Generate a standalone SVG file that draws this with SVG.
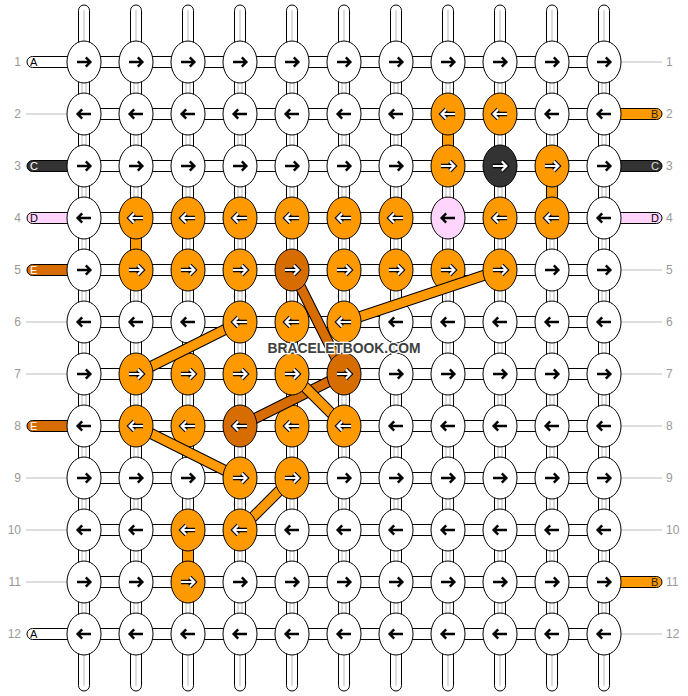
<svg xmlns="http://www.w3.org/2000/svg" xmlns:xlink="http://www.w3.org/1999/xlink" width="688" height="696" viewBox="0 0 688 696">
<style>
.lb{font-family:"Liberation Sans",Arial,sans-serif;font-size:12px;fill:#999}
.sl{font-family:"Liberation Sans",Arial,sans-serif;font-size:11px}
.gl{stroke:#bbb;stroke-width:1;fill:none}
.st{stroke:#000;stroke-width:1}
.hw{fill:#fff;stroke:#000;stroke-width:1}
.vo{fill:#ff9900;stroke:#000;stroke-width:1}
ellipse{stroke:#000;stroke-width:1}
.w{fill:#fff}.o{fill:#ff9900}.d{fill:#d76c00}.k{fill:#333}.p{fill:#ffd5fd}
.ak{fill:none;stroke:#000;stroke-width:2.4}
.aw1{fill:none;stroke:#000;stroke-width:4.4}
.aw2{fill:none;stroke:#fff;stroke-width:2.2}
.bo{stroke:#000;stroke-width:11}
.bfo{stroke:#ff9900;stroke-width:9}
.bfd{stroke:#d76c00;stroke-width:9}
.wm{font-family:"Liberation Sans",Arial,sans-serif;font-size:15px;font-weight:bold;fill:#404040;stroke:#fff;stroke-width:2.5;paint-order:stroke}
</style>
<defs>
<path id="pR" d="M-7,0H5.5M1.8,-4.6L6.4,0L1.8,4.6"/>
<path id="pL" d="M7,0H-5.5M-1.8,-4.6L-6.4,0L-1.8,4.6"/>
<g id="wR"><use href="#pR" class="aw1"/><use href="#pR" class="aw2"/></g>
<g id="wL"><use href="#pL" class="aw1"/><use href="#pL" class="aw2"/></g>
</defs>
<g id="labels">
<text class="lb" x="21" y="66" text-anchor="end">1</text>
<text class="lb" x="21" y="118" text-anchor="end">2</text>
<text class="lb" x="21" y="170" text-anchor="end">3</text>
<text class="lb" x="21" y="222" text-anchor="end">4</text>
<text class="lb" x="21" y="274" text-anchor="end">5</text>
<text class="lb" x="21" y="326" text-anchor="end">6</text>
<text class="lb" x="21" y="378" text-anchor="end">7</text>
<text class="lb" x="21" y="430" text-anchor="end">8</text>
<text class="lb" x="21" y="482" text-anchor="end">9</text>
<text class="lb" x="21" y="534" text-anchor="end">10</text>
<text class="lb" x="21" y="586" text-anchor="end">11</text>
<text class="lb" x="21" y="638" text-anchor="end">12</text>
<text class="lb" x="666" y="66">1</text>
<text class="lb" x="666" y="118">2</text>
<text class="lb" x="666" y="170">3</text>
<text class="lb" x="666" y="222">4</text>
<text class="lb" x="666" y="274">5</text>
<text class="lb" x="666" y="326">6</text>
<text class="lb" x="666" y="378">7</text>
<text class="lb" x="666" y="430">8</text>
<text class="lb" x="666" y="482">9</text>
<text class="lb" x="666" y="534">10</text>
<text class="lb" x="666" y="586">11</text>
<text class="lb" x="666" y="638">12</text>
</g>
<g id="connectors">
<g id="vertical-strands">
<path class="hw" d="M78.5,10.5A5.5,5.5 0 0 1 89.5,10.5V685.5A5.5,5.5 0 0 1 78.5,685.5Z"/>
<path class="hw" d="M130.5,10.5A5.5,5.5 0 0 1 141.5,10.5V685.5A5.5,5.5 0 0 1 130.5,685.5Z"/>
<path class="hw" d="M182.5,10.5A5.5,5.5 0 0 1 193.5,10.5V685.5A5.5,5.5 0 0 1 182.5,685.5Z"/>
<path class="hw" d="M234.5,10.5A5.5,5.5 0 0 1 245.5,10.5V685.5A5.5,5.5 0 0 1 234.5,685.5Z"/>
<path class="hw" d="M286.5,10.5A5.5,5.5 0 0 1 297.5,10.5V685.5A5.5,5.5 0 0 1 286.5,685.5Z"/>
<path class="hw" d="M338.5,10.5A5.5,5.5 0 0 1 349.5,10.5V685.5A5.5,5.5 0 0 1 338.5,685.5Z"/>
<path class="hw" d="M390.5,10.5A5.5,5.5 0 0 1 401.5,10.5V685.5A5.5,5.5 0 0 1 390.5,685.5Z"/>
<path class="hw" d="M442.5,10.5A5.5,5.5 0 0 1 453.5,10.5V685.5A5.5,5.5 0 0 1 442.5,685.5Z"/>
<path class="hw" d="M494.5,10.5A5.5,5.5 0 0 1 505.5,10.5V685.5A5.5,5.5 0 0 1 494.5,685.5Z"/>
<path class="hw" d="M546.5,10.5A5.5,5.5 0 0 1 557.5,10.5V685.5A5.5,5.5 0 0 1 546.5,685.5Z"/>
<path class="hw" d="M598.5,10.5A5.5,5.5 0 0 1 609.5,10.5V685.5A5.5,5.5 0 0 1 598.5,685.5Z"/>
<path class="gl" d="M84,10V42M84,654V686M82,62V634M86,62V634"/>
<path class="gl" d="M136,10V42M136,654V686M134,62V634M138,62V634"/>
<path class="gl" d="M188,10V42M188,654V686M186,62V634M190,62V634"/>
<path class="gl" d="M240,10V42M240,654V686M238,62V634M242,62V634"/>
<path class="gl" d="M292,10V42M292,654V686M290,62V634M294,62V634"/>
<path class="gl" d="M344,10V42M344,654V686M342,62V634M346,62V634"/>
<path class="gl" d="M396,10V42M396,654V686M394,62V634M398,62V634"/>
<path class="gl" d="M448,10V42M448,654V686M446,62V634M450,62V634"/>
<path class="gl" d="M500,10V42M500,654V686M498,62V634M502,62V634"/>
<path class="gl" d="M552,10V42M552,654V686M550,62V634M554,62V634"/>
<path class="gl" d="M604,10V42M604,654V686M602,62V634M606,62V634"/>
<rect class="vo" x="442.5" y="130" width="11" height="20"/>
<rect class="vo" x="546.5" y="182" width="11" height="20"/>
<rect class="vo" x="130.5" y="234" width="11" height="20"/>
<rect class="vo" x="182.5" y="546" width="11" height="20"/>
</g>
<g id="horizontal-rows">
<rect class="hw" x="84" y="56.5" width="520" height="11"/>
<rect class="hw" x="84" y="108.5" width="520" height="11"/>
<rect class="hw" x="84" y="160.5" width="520" height="11"/>
<rect class="hw" x="84" y="212.5" width="520" height="11"/>
<rect class="hw" x="84" y="264.5" width="520" height="11"/>
<rect class="hw" x="84" y="316.5" width="520" height="11"/>
<rect class="hw" x="84" y="368.5" width="520" height="11"/>
<rect class="hw" x="84" y="420.5" width="520" height="11"/>
<rect class="hw" x="84" y="472.5" width="520" height="11"/>
<rect class="hw" x="84" y="524.5" width="520" height="11"/>
<rect class="hw" x="84" y="576.5" width="520" height="11"/>
<rect class="hw" x="84" y="628.5" width="520" height="11"/>
</g>
<g id="side-strands">
<path class="st" fill="#fff" d="M70,56.5H32.5A5.5,5.5 0 0 0 32.5,67.5H70Z"/>
<text class="sl" x="30" y="66" fill="#000">A</text>
<path class="gl" d="M26,114H70M26,322H70M26,374H70M26,478H70M26,530H70M26,582H70"/>
<path class="st" fill="#333" d="M70,160.5H32.5A5.5,5.5 0 0 0 32.5,171.5H70Z"/>
<text class="sl" x="30" y="170" fill="#fff">C</text>
<path class="st" fill="#ffd5fd" d="M70,212.5H32.5A5.5,5.5 0 0 0 32.5,223.5H70Z"/>
<text class="sl" x="30" y="222" fill="#000">D</text>
<path class="st" fill="#d76c00" d="M70,264.5H32.5A5.5,5.5 0 0 0 32.5,275.5H70Z"/>
<text class="sl" x="30" y="274" fill="#fff">E</text>
<path class="st" fill="#d76c00" d="M70,420.5H32.5A5.5,5.5 0 0 0 32.5,431.5H70Z"/>
<text class="sl" x="30" y="430" fill="#fff">E</text>
<path class="st" fill="#fff" d="M70,628.5H32.5A5.5,5.5 0 0 0 32.5,639.5H70Z"/>
<text class="sl" x="30" y="638" fill="#000">A</text>
<path class="gl" d="M618,62H662M618,270H662M618,322H662M618,374H662M618,426H662M618,478H662M618,530H662M618,634H662"/>
<path class="st" fill="#ff9900" d="M618,108.5H656.5A5.5,5.5 0 0 1 656.5,119.5H618Z"/>
<text class="sl" x="651" y="118" fill="#222">B</text>
<path class="st" fill="#333" d="M618,160.5H656.5A5.5,5.5 0 0 1 656.5,171.5H618Z"/>
<text class="sl" x="651" y="170" fill="#ddd">C</text>
<path class="st" fill="#ffd5fd" d="M618,212.5H656.5A5.5,5.5 0 0 1 656.5,223.5H618Z"/>
<text class="sl" x="651" y="222" fill="#000">D</text>
<path class="st" fill="#ff9900" d="M618,576.5H656.5A5.5,5.5 0 0 1 656.5,587.5H618Z"/>
<text class="sl" x="651" y="586" fill="#222">B</text>
</g>
</g>
<g id="nodes">
<g id="n1-1"><ellipse class="w" cx="84" cy="62" rx="17" ry="21"/><use href="#pR" class="ak" x="84" y="62"/></g>
<g id="n1-2"><ellipse class="w" cx="136" cy="62" rx="17" ry="21"/><use href="#pR" class="ak" x="136" y="62"/></g>
<g id="n1-3"><ellipse class="w" cx="188" cy="62" rx="17" ry="21"/><use href="#pR" class="ak" x="188" y="62"/></g>
<g id="n1-4"><ellipse class="w" cx="240" cy="62" rx="17" ry="21"/><use href="#pR" class="ak" x="240" y="62"/></g>
<g id="n1-5"><ellipse class="w" cx="292" cy="62" rx="17" ry="21"/><use href="#pR" class="ak" x="292" y="62"/></g>
<g id="n1-6"><ellipse class="w" cx="344" cy="62" rx="17" ry="21"/><use href="#pR" class="ak" x="344" y="62"/></g>
<g id="n1-7"><ellipse class="w" cx="396" cy="62" rx="17" ry="21"/><use href="#pR" class="ak" x="396" y="62"/></g>
<g id="n1-8"><ellipse class="w" cx="448" cy="62" rx="17" ry="21"/><use href="#pR" class="ak" x="448" y="62"/></g>
<g id="n1-9"><ellipse class="w" cx="500" cy="62" rx="17" ry="21"/><use href="#pR" class="ak" x="500" y="62"/></g>
<g id="n1-10"><ellipse class="w" cx="552" cy="62" rx="17" ry="21"/><use href="#pR" class="ak" x="552" y="62"/></g>
<g id="n1-11"><ellipse class="w" cx="604" cy="62" rx="17" ry="21"/><use href="#pR" class="ak" x="604" y="62"/></g>

<g id="n2-1"><ellipse class="w" cx="84" cy="114" rx="17" ry="21"/><use href="#pL" class="ak" x="84" y="114"/></g>
<g id="n2-2"><ellipse class="w" cx="136" cy="114" rx="17" ry="21"/><use href="#pL" class="ak" x="136" y="114"/></g>
<g id="n2-3"><ellipse class="w" cx="188" cy="114" rx="17" ry="21"/><use href="#pL" class="ak" x="188" y="114"/></g>
<g id="n2-4"><ellipse class="w" cx="240" cy="114" rx="17" ry="21"/><use href="#pL" class="ak" x="240" y="114"/></g>
<g id="n2-5"><ellipse class="w" cx="292" cy="114" rx="17" ry="21"/><use href="#pL" class="ak" x="292" y="114"/></g>
<g id="n2-6"><ellipse class="w" cx="344" cy="114" rx="17" ry="21"/><use href="#pL" class="ak" x="344" y="114"/></g>
<g id="n2-7"><ellipse class="w" cx="396" cy="114" rx="17" ry="21"/><use href="#pL" class="ak" x="396" y="114"/></g>
<g id="n2-8"><ellipse class="o" cx="448" cy="114" rx="17" ry="21"/><use href="#wL" x="448" y="114"/></g>
<g id="n2-9"><ellipse class="o" cx="500" cy="114" rx="17" ry="21"/><use href="#wL" x="500" y="114"/></g>
<g id="n2-10"><ellipse class="w" cx="552" cy="114" rx="17" ry="21"/><use href="#pL" class="ak" x="552" y="114"/></g>
<g id="n2-11"><ellipse class="w" cx="604" cy="114" rx="17" ry="21"/><use href="#pL" class="ak" x="604" y="114"/></g>

<g id="n3-1"><ellipse class="w" cx="84" cy="166" rx="17" ry="21"/><use href="#pR" class="ak" x="84" y="166"/></g>
<g id="n3-2"><ellipse class="w" cx="136" cy="166" rx="17" ry="21"/><use href="#pR" class="ak" x="136" y="166"/></g>
<g id="n3-3"><ellipse class="w" cx="188" cy="166" rx="17" ry="21"/><use href="#pR" class="ak" x="188" y="166"/></g>
<g id="n3-4"><ellipse class="w" cx="240" cy="166" rx="17" ry="21"/><use href="#pR" class="ak" x="240" y="166"/></g>
<g id="n3-5"><ellipse class="w" cx="292" cy="166" rx="17" ry="21"/><use href="#pR" class="ak" x="292" y="166"/></g>
<g id="n3-6"><ellipse class="w" cx="344" cy="166" rx="17" ry="21"/><use href="#pR" class="ak" x="344" y="166"/></g>
<g id="n3-7"><ellipse class="w" cx="396" cy="166" rx="17" ry="21"/><use href="#pR" class="ak" x="396" y="166"/></g>
<g id="n3-8"><ellipse class="o" cx="448" cy="166" rx="17" ry="21"/><use href="#wR" x="448" y="166"/></g>
<g id="n3-9"><ellipse class="k" cx="500" cy="166" rx="17" ry="21"/><use href="#wR" x="500" y="166"/></g>
<g id="n3-10"><ellipse class="o" cx="552" cy="166" rx="17" ry="21"/><use href="#wR" x="552" y="166"/></g>
<g id="n3-11"><ellipse class="w" cx="604" cy="166" rx="17" ry="21"/><use href="#pR" class="ak" x="604" y="166"/></g>

<g id="n4-1"><ellipse class="w" cx="84" cy="218" rx="17" ry="21"/><use href="#pL" class="ak" x="84" y="218"/></g>
<g id="n4-2"><ellipse class="o" cx="136" cy="218" rx="17" ry="21"/><use href="#wL" x="136" y="218"/></g>
<g id="n4-3"><ellipse class="o" cx="188" cy="218" rx="17" ry="21"/><use href="#wL" x="188" y="218"/></g>
<g id="n4-4"><ellipse class="o" cx="240" cy="218" rx="17" ry="21"/><use href="#wL" x="240" y="218"/></g>
<g id="n4-5"><ellipse class="o" cx="292" cy="218" rx="17" ry="21"/><use href="#wL" x="292" y="218"/></g>
<g id="n4-6"><ellipse class="o" cx="344" cy="218" rx="17" ry="21"/><use href="#wL" x="344" y="218"/></g>
<g id="n4-7"><ellipse class="o" cx="396" cy="218" rx="17" ry="21"/><use href="#wL" x="396" y="218"/></g>
<g id="n4-8"><ellipse class="p" cx="448" cy="218" rx="17" ry="21"/><use href="#pL" class="ak" x="448" y="218"/></g>
<g id="n4-9"><ellipse class="o" cx="500" cy="218" rx="17" ry="21"/><use href="#wL" x="500" y="218"/></g>
<g id="n4-10"><ellipse class="o" cx="552" cy="218" rx="17" ry="21"/><use href="#wL" x="552" y="218"/></g>
<g id="n4-11"><ellipse class="w" cx="604" cy="218" rx="17" ry="21"/><use href="#pL" class="ak" x="604" y="218"/></g>

<g id="n5-1"><ellipse class="w" cx="84" cy="270" rx="17" ry="21"/><use href="#pR" class="ak" x="84" y="270"/></g>
<g id="n5-2"><ellipse class="o" cx="136" cy="270" rx="17" ry="21"/><use href="#wR" x="136" y="270"/></g>
<g id="n5-3"><ellipse class="o" cx="188" cy="270" rx="17" ry="21"/><use href="#wR" x="188" y="270"/></g>
<g id="n5-4"><ellipse class="o" cx="240" cy="270" rx="17" ry="21"/><use href="#wR" x="240" y="270"/></g>
<g id="n5-6"><ellipse class="o" cx="344" cy="270" rx="17" ry="21"/><use href="#wR" x="344" y="270"/></g>
<g id="n5-7"><ellipse class="o" cx="396" cy="270" rx="17" ry="21"/><use href="#wR" x="396" y="270"/></g>
<g id="n5-8"><ellipse class="o" cx="448" cy="270" rx="17" ry="21"/><use href="#wR" x="448" y="270"/></g>
<g id="n5-10"><ellipse class="w" cx="552" cy="270" rx="17" ry="21"/><use href="#pR" class="ak" x="552" y="270"/></g>
<g id="n5-11"><ellipse class="w" cx="604" cy="270" rx="17" ry="21"/><use href="#pR" class="ak" x="604" y="270"/></g>

<g id="n6-1"><ellipse class="w" cx="84" cy="322" rx="17" ry="21"/><use href="#pL" class="ak" x="84" y="322"/></g>
<g id="n6-2"><ellipse class="w" cx="136" cy="322" rx="17" ry="21"/><use href="#pL" class="ak" x="136" y="322"/></g>
<g id="n6-3"><ellipse class="w" cx="188" cy="322" rx="17" ry="21"/><use href="#pL" class="ak" x="188" y="322"/></g>
<g id="n6-5"><ellipse class="o" cx="292" cy="322" rx="17" ry="21"/><use href="#wL" x="292" y="322"/></g>
<g id="n6-7"><ellipse class="w" cx="396" cy="322" rx="17" ry="21"/><use href="#pL" class="ak" x="396" y="322"/></g>
<g id="n6-8"><ellipse class="w" cx="448" cy="322" rx="17" ry="21"/><use href="#pL" class="ak" x="448" y="322"/></g>
<g id="n6-9"><ellipse class="w" cx="500" cy="322" rx="17" ry="21"/><use href="#pL" class="ak" x="500" y="322"/></g>
<g id="n6-10"><ellipse class="w" cx="552" cy="322" rx="17" ry="21"/><use href="#pL" class="ak" x="552" y="322"/></g>
<g id="n6-11"><ellipse class="w" cx="604" cy="322" rx="17" ry="21"/><use href="#pL" class="ak" x="604" y="322"/></g>

<g id="n7-1"><ellipse class="w" cx="84" cy="374" rx="17" ry="21"/><use href="#pR" class="ak" x="84" y="374"/></g>
<g id="n7-3"><ellipse class="o" cx="188" cy="374" rx="17" ry="21"/><use href="#wR" x="188" y="374"/></g>
<g id="n7-4"><ellipse class="o" cx="240" cy="374" rx="17" ry="21"/><use href="#wR" x="240" y="374"/></g>
<g id="n7-7"><ellipse class="w" cx="396" cy="374" rx="17" ry="21"/><use href="#pR" class="ak" x="396" y="374"/></g>
<g id="n7-8"><ellipse class="w" cx="448" cy="374" rx="17" ry="21"/><use href="#pR" class="ak" x="448" y="374"/></g>
<g id="n7-9"><ellipse class="w" cx="500" cy="374" rx="17" ry="21"/><use href="#pR" class="ak" x="500" y="374"/></g>
<g id="n7-10"><ellipse class="w" cx="552" cy="374" rx="17" ry="21"/><use href="#pR" class="ak" x="552" y="374"/></g>
<g id="n7-11"><ellipse class="w" cx="604" cy="374" rx="17" ry="21"/><use href="#pR" class="ak" x="604" y="374"/></g>

<g id="n8-1"><ellipse class="w" cx="84" cy="426" rx="17" ry="21"/><use href="#pL" class="ak" x="84" y="426"/></g>
<g id="n8-3"><ellipse class="o" cx="188" cy="426" rx="17" ry="21"/><use href="#wL" x="188" y="426"/></g>
<g id="n8-5"><ellipse class="o" cx="292" cy="426" rx="17" ry="21"/><use href="#wL" x="292" y="426"/></g>
<g id="n8-7"><ellipse class="w" cx="396" cy="426" rx="17" ry="21"/><use href="#pL" class="ak" x="396" y="426"/></g>
<g id="n8-8"><ellipse class="w" cx="448" cy="426" rx="17" ry="21"/><use href="#pL" class="ak" x="448" y="426"/></g>
<g id="n8-9"><ellipse class="w" cx="500" cy="426" rx="17" ry="21"/><use href="#pL" class="ak" x="500" y="426"/></g>
<g id="n8-10"><ellipse class="w" cx="552" cy="426" rx="17" ry="21"/><use href="#pL" class="ak" x="552" y="426"/></g>
<g id="n8-11"><ellipse class="w" cx="604" cy="426" rx="17" ry="21"/><use href="#pL" class="ak" x="604" y="426"/></g>

<g id="n9-1"><ellipse class="w" cx="84" cy="478" rx="17" ry="21"/><use href="#pR" class="ak" x="84" y="478"/></g>
<g id="n9-2"><ellipse class="w" cx="136" cy="478" rx="17" ry="21"/><use href="#pR" class="ak" x="136" y="478"/></g>
<g id="n9-3"><ellipse class="w" cx="188" cy="478" rx="17" ry="21"/><use href="#pR" class="ak" x="188" y="478"/></g>
<g id="n9-6"><ellipse class="w" cx="344" cy="478" rx="17" ry="21"/><use href="#pR" class="ak" x="344" y="478"/></g>
<g id="n9-7"><ellipse class="w" cx="396" cy="478" rx="17" ry="21"/><use href="#pR" class="ak" x="396" y="478"/></g>
<g id="n9-8"><ellipse class="w" cx="448" cy="478" rx="17" ry="21"/><use href="#pR" class="ak" x="448" y="478"/></g>
<g id="n9-9"><ellipse class="w" cx="500" cy="478" rx="17" ry="21"/><use href="#pR" class="ak" x="500" y="478"/></g>
<g id="n9-10"><ellipse class="w" cx="552" cy="478" rx="17" ry="21"/><use href="#pR" class="ak" x="552" y="478"/></g>
<g id="n9-11"><ellipse class="w" cx="604" cy="478" rx="17" ry="21"/><use href="#pR" class="ak" x="604" y="478"/></g>

<g id="n10-1"><ellipse class="w" cx="84" cy="530" rx="17" ry="21"/><use href="#pL" class="ak" x="84" y="530"/></g>
<g id="n10-2"><ellipse class="w" cx="136" cy="530" rx="17" ry="21"/><use href="#pL" class="ak" x="136" y="530"/></g>
<g id="n10-3"><ellipse class="o" cx="188" cy="530" rx="17" ry="21"/><use href="#wL" x="188" y="530"/></g>
<g id="n10-5"><ellipse class="w" cx="292" cy="530" rx="17" ry="21"/><use href="#pL" class="ak" x="292" y="530"/></g>
<g id="n10-6"><ellipse class="w" cx="344" cy="530" rx="17" ry="21"/><use href="#pL" class="ak" x="344" y="530"/></g>
<g id="n10-7"><ellipse class="w" cx="396" cy="530" rx="17" ry="21"/><use href="#pL" class="ak" x="396" y="530"/></g>
<g id="n10-8"><ellipse class="w" cx="448" cy="530" rx="17" ry="21"/><use href="#pL" class="ak" x="448" y="530"/></g>
<g id="n10-9"><ellipse class="w" cx="500" cy="530" rx="17" ry="21"/><use href="#pL" class="ak" x="500" y="530"/></g>
<g id="n10-10"><ellipse class="w" cx="552" cy="530" rx="17" ry="21"/><use href="#pL" class="ak" x="552" y="530"/></g>
<g id="n10-11"><ellipse class="w" cx="604" cy="530" rx="17" ry="21"/><use href="#pL" class="ak" x="604" y="530"/></g>

<g id="n11-1"><ellipse class="w" cx="84" cy="582" rx="17" ry="21"/><use href="#pR" class="ak" x="84" y="582"/></g>
<g id="n11-2"><ellipse class="w" cx="136" cy="582" rx="17" ry="21"/><use href="#pR" class="ak" x="136" y="582"/></g>
<g id="n11-3"><ellipse class="o" cx="188" cy="582" rx="17" ry="21"/><use href="#wR" x="188" y="582"/></g>
<g id="n11-4"><ellipse class="w" cx="240" cy="582" rx="17" ry="21"/><use href="#pR" class="ak" x="240" y="582"/></g>
<g id="n11-5"><ellipse class="w" cx="292" cy="582" rx="17" ry="21"/><use href="#pR" class="ak" x="292" y="582"/></g>
<g id="n11-6"><ellipse class="w" cx="344" cy="582" rx="17" ry="21"/><use href="#pR" class="ak" x="344" y="582"/></g>
<g id="n11-7"><ellipse class="w" cx="396" cy="582" rx="17" ry="21"/><use href="#pR" class="ak" x="396" y="582"/></g>
<g id="n11-8"><ellipse class="w" cx="448" cy="582" rx="17" ry="21"/><use href="#pR" class="ak" x="448" y="582"/></g>
<g id="n11-9"><ellipse class="w" cx="500" cy="582" rx="17" ry="21"/><use href="#pR" class="ak" x="500" y="582"/></g>
<g id="n11-10"><ellipse class="w" cx="552" cy="582" rx="17" ry="21"/><use href="#pR" class="ak" x="552" y="582"/></g>
<g id="n11-11"><ellipse class="w" cx="604" cy="582" rx="17" ry="21"/><use href="#pR" class="ak" x="604" y="582"/></g>

<g id="n12-1"><ellipse class="w" cx="84" cy="634" rx="17" ry="21"/><use href="#pL" class="ak" x="84" y="634"/></g>
<g id="n12-2"><ellipse class="w" cx="136" cy="634" rx="17" ry="21"/><use href="#pL" class="ak" x="136" y="634"/></g>
<g id="n12-3"><ellipse class="w" cx="188" cy="634" rx="17" ry="21"/><use href="#pL" class="ak" x="188" y="634"/></g>
<g id="n12-4"><ellipse class="w" cx="240" cy="634" rx="17" ry="21"/><use href="#pL" class="ak" x="240" y="634"/></g>
<g id="n12-5"><ellipse class="w" cx="292" cy="634" rx="17" ry="21"/><use href="#pL" class="ak" x="292" y="634"/></g>
<g id="n12-6"><ellipse class="w" cx="344" cy="634" rx="17" ry="21"/><use href="#pL" class="ak" x="344" y="634"/></g>
<g id="n12-7"><ellipse class="w" cx="396" cy="634" rx="17" ry="21"/><use href="#pL" class="ak" x="396" y="634"/></g>
<g id="n12-8"><ellipse class="w" cx="448" cy="634" rx="17" ry="21"/><use href="#pL" class="ak" x="448" y="634"/></g>
<g id="n12-9"><ellipse class="w" cx="500" cy="634" rx="17" ry="21"/><use href="#pL" class="ak" x="500" y="634"/></g>
<g id="n12-10"><ellipse class="w" cx="552" cy="634" rx="17" ry="21"/><use href="#pL" class="ak" x="552" y="634"/></g>
<g id="n12-11"><ellipse class="w" cx="604" cy="634" rx="17" ry="21"/><use href="#pL" class="ak" x="604" y="634"/></g>
</g>
<g id="thread-connectors">
<g><line class="bo" x1="500" y1="270" x2="344" y2="322"/><line class="bfo" x1="500" y1="270" x2="344" y2="322"/></g>
<g><line class="bo" x1="292" y1="270" x2="344" y2="374"/><line class="bfd" x1="292" y1="270" x2="344" y2="374"/></g>
<g><line class="bo" x1="136" y1="374" x2="240" y2="322"/><line class="bfo" x1="136" y1="374" x2="240" y2="322"/></g>
<g><line class="bo" x1="240" y1="426" x2="344" y2="374"/><line class="bfd" x1="240" y1="426" x2="344" y2="374"/></g>
<g><line class="bo" x1="292" y1="374" x2="344" y2="426"/><line class="bfo" x1="292" y1="374" x2="344" y2="426"/></g>
<g><line class="bo" x1="136" y1="426" x2="240" y2="478"/><line class="bfo" x1="136" y1="426" x2="240" y2="478"/></g>
<g><line class="bo" x1="240" y1="530" x2="292" y2="478"/><line class="bfo" x1="240" y1="530" x2="292" y2="478"/></g>
</g>
<g id="thread-end-nodes">
<g id="n5-5"><ellipse class="d" cx="292" cy="270" rx="17" ry="21"/><use href="#wR" x="292" y="270"/></g>
<g id="n5-9"><ellipse class="o" cx="500" cy="270" rx="17" ry="21"/><use href="#wR" x="500" y="270"/></g>
<g id="n6-4"><ellipse class="o" cx="240" cy="322" rx="17" ry="21"/><use href="#wL" x="240" y="322"/></g>
<g id="n6-6"><ellipse class="o" cx="344" cy="322" rx="17" ry="21"/><use href="#wL" x="344" y="322"/></g>
<g id="n7-2"><ellipse class="o" cx="136" cy="374" rx="17" ry="21"/><use href="#wR" x="136" y="374"/></g>
<g id="n7-5"><ellipse class="o" cx="292" cy="374" rx="17" ry="21"/><use href="#wR" x="292" y="374"/></g>
<g id="n7-6"><ellipse class="d" cx="344" cy="374" rx="17" ry="21"/><use href="#wR" x="344" y="374"/></g>
<g id="n8-2"><ellipse class="o" cx="136" cy="426" rx="17" ry="21"/><use href="#wL" x="136" y="426"/></g>
<g id="n8-4"><ellipse class="d" cx="240" cy="426" rx="17" ry="21"/><use href="#wL" x="240" y="426"/></g>
<g id="n8-6"><ellipse class="o" cx="344" cy="426" rx="17" ry="21"/><use href="#wL" x="344" y="426"/></g>
<g id="n9-4"><ellipse class="o" cx="240" cy="478" rx="17" ry="21"/><use href="#wR" x="240" y="478"/></g>
<g id="n9-5"><ellipse class="o" cx="292" cy="478" rx="17" ry="21"/><use href="#wR" x="292" y="478"/></g>
<g id="n10-4"><ellipse class="o" cx="240" cy="530" rx="17" ry="21"/><use href="#wL" x="240" y="530"/></g>
</g>
<text class="wm" x="344" y="352.5" text-anchor="middle" textLength="153" lengthAdjust="spacingAndGlyphs">BRACELETBOOK.COM</text>
</svg>
